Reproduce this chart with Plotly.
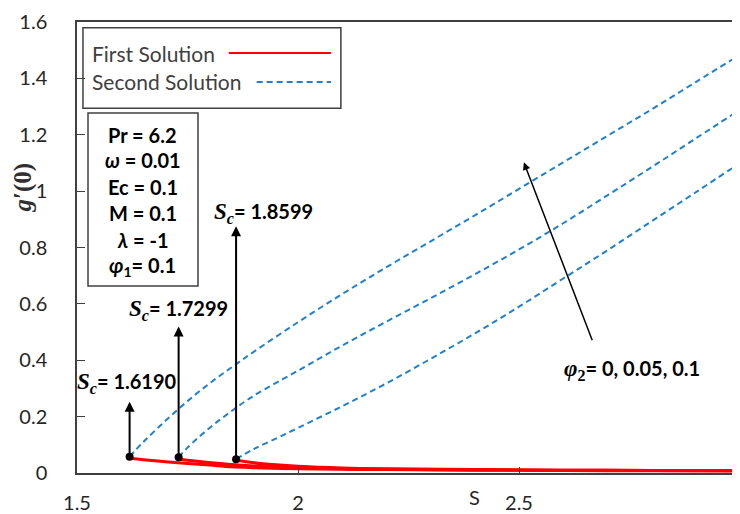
import plotly.graph_objects as go

# ---------------- data ----------------
sc_values = [1.6190, 1.7299, 1.8599]
sc_labels = ["1.6190", "1.7299", "1.8599"]

# second solutions (blue dashed)
s2_a = [1.619, 1.65, 1.70, 1.75, 1.80, 1.85, 1.90, 2.00, 2.10, 2.20, 2.30, 2.40, 2.50, 2.60, 2.70, 2.80, 2.90, 3.00]
g2_a = [0.058, 0.11, 0.185, 0.255, 0.318, 0.375, 0.43, 0.535, 0.635, 0.73, 0.822, 0.914, 1.008, 1.102, 1.196, 1.29, 1.387, 1.484]

s2_b = [1.7299, 1.75, 1.80, 1.85, 1.90, 2.00, 2.10, 2.20, 2.30, 2.40, 2.50, 2.60, 2.70, 2.80, 2.90, 3.00]
g2_b = [0.056, 0.09, 0.16, 0.22, 0.274, 0.363, 0.452, 0.537, 0.62, 0.705, 0.793, 0.886, 0.985, 1.085, 1.187, 1.289]

s2_c = [1.8599, 1.90, 1.95, 2.00, 2.10, 2.20, 2.30, 2.40, 2.50, 2.60, 2.70, 2.80, 2.90, 3.00]
g2_c = [0.049, 0.085, 0.122, 0.16, 0.237, 0.318, 0.405, 0.495, 0.59, 0.69, 0.79, 0.893, 0.996, 1.10]

# first solutions (red solid)
s1_a = [1.619, 1.65, 1.70, 1.75, 1.80, 1.85, 1.90, 2.00, 2.10, 2.20, 2.40, 2.60, 2.80, 3.00]
g1_a = [0.052, 0.047, 0.040, 0.034, 0.028, 0.022, 0.019, 0.015, 0.013, 0.012, 0.010, 0.009, 0.008, 0.008]

s1_b = [1.7299, 1.75, 1.80, 1.85, 1.90, 2.00, 2.10, 2.20, 2.40, 2.60, 2.80, 3.00]
g1_b = [0.050, 0.045, 0.037, 0.030, 0.025, 0.018, 0.015, 0.013, 0.011, 0.010, 0.009, 0.008]

s1_c = [1.8599, 1.90, 1.95, 2.00, 2.10, 2.20, 2.40, 2.60, 2.80, 3.00]
g1_c = [0.045, 0.036, 0.029, 0.024, 0.018, 0.015, 0.012, 0.010, 0.009, 0.008]

x_ticks = [1.5, 2, 2.5, 3]
x_tick_text = ["1.5", "2", "2.5", "3"]
y_ticks = [0, 0.2, 0.4, 0.6, 0.8, 1, 1.2, 1.4, 1.6]
y_tick_text = ["0", "0.2", "0.4", "0.6", "0.8", "1", "1.2", "1.4", "1.6"]

params = ["Pr = 6.2", "<i>ω</i> = 0.01", "Ec = 0.1", "M = 0.1", "<i>λ</i> = -1", "<i>φ</i><sub>1</sub>= 0.1"]

# ---------------- figure ----------------
RED = "#ff0000"
BLUE = "#1f80d0"
BASE_FONT = "Lato, 'Open Sans', sans-serif"
SERIF = "'Liberation Serif', 'DejaVu Serif', serif"
TICK_COLOR = "#262626"

fig = go.Figure()

for s, g in [(s2_a, g2_a), (s2_b, g2_b), (s2_c, g2_c)]:
    fig.add_trace(go.Scatter(x=s, y=g, mode="lines", line=dict(color=BLUE, width=2, dash="6px,4px", shape="spline"),
                             name="Second Solution", showlegend=False))

for s, g in [(s1_a, g1_a), (s1_b, g1_b), (s1_c, g1_c)]:
    fig.add_trace(go.Scatter(x=s, y=g, mode="lines", line=dict(color=RED, width=3, shape="spline"),
                             name="First Solution", showlegend=False))

dot_y = [g2_a[0], g2_b[0], g2_c[0]]
fig.add_trace(go.Scatter(x=sc_values, y=dot_y, mode="markers", marker=dict(color="black", size=8),
                         showlegend=False))

annotations = []


def txt(x, y, text, size, color="black", family=BASE_FONT, ref="paper", **kw):
    d = dict(x=x, y=y, xref=ref, yref=ref, showarrow=False, text=text, xanchor="center", yanchor="middle",
             font=dict(family=family, size=size, color=color))
    d.update(kw)
    return d


SC = f"<span style=\"font-family:{SERIF};font-size:23px\"><i>S</i><sub><i>c</i></sub></span>"

# vertical arrows from critical points
arrow_tops = [0.253, 0.52, 0.875]
label_pos = [(1.614, 0.32), (1.7285, 0.579), (1.921, 0.923)]
for sc, y0, top, (lx, ly), lab in zip(sc_values, dot_y, arrow_tops, label_pos, sc_labels):
    annotations.append(dict(x=sc, y=top, ax=sc, ay=y0, xref="x", yref="y", axref="x", ayref="y",
                            text="", showarrow=True, arrowhead=2, arrowsize=1, arrowwidth=2, arrowcolor="black"))
    annotations.append(txt(lx, ly, f"<b>{SC}= {lab}</b>", 20, ref="x"))
    annotations[-1]["yref"] = "y"

# phi2 arrow
annotations.append(dict(x=2.511, y=1.102, ax=2.667, ay=0.466, xref="x", yref="y", axref="x", ayref="y",
                        text="", showarrow=True, arrowhead=2, arrowsize=1, arrowwidth=1.5, arrowcolor="black"))
annotations.append(txt(0.837, 0.2284,
                       f"<b><span style=\"font-family:{SERIF};font-size:23px\"><i>φ</i><sub>2</sub></span>= 0, 0.05, 0.1</b>",
                       20))

# parameter box text
param_y = [0.749, 0.694, 0.634, 0.576, 0.517, 0.457]
for t, py in zip(params, param_y):
    annotations.append(txt(0.0995, py, f"<b>{t}</b>", 20))

# legend text
annotations.append(txt(0.0196, 0.931, "First Solution", 21, color="#404040", xanchor="left"))
annotations.append(txt(0.0196, 0.867, "Second Solution", 21, color="#404040", xanchor="left"))

# axis titles
annotations.append(txt(0.6003, -0.0532, "S", 20, color=TICK_COLOR))
annotations.append(txt(-0.082, 0.632, "<b><i>g</i>′(0)</b>", 25, color="#303030", family=SERIF, textangle=-90))

shapes = [
    # legend box
    dict(type="rect", xref="paper", yref="paper", x0=0.009, x1=0.398, y0=0.809, y1=0.987,
         line=dict(color="#404040", width=1.5), fillcolor="white", layer="below"),
    dict(type="line", xref="paper", yref="paper", x0=0.229, x1=0.383, y0=0.931, y1=0.931,
         line=dict(color=RED, width=2)),
    dict(type="line", xref="paper", yref="paper", x0=0.271, x1=0.383, y0=0.867, y1=0.867,
         line=dict(color=BLUE, width=2, dash="6px,4px")),
    # parameter box
    dict(type="rect", xref="paper", yref="paper", x0=0.0166, x1=0.1825, y0=0.4146, y1=0.798,
         line=dict(color="#404040", width=1.5), fillcolor="white", layer="below"),
]

# the page body has an 8px margin, so the figure is 8px smaller than the window
fig.update_layout(
    width=732, height=506, autosize=False,
    margin=dict(l=69, r=0, t=14, b=41, autoexpand=False),
    paper_bgcolor="white", plot_bgcolor="white",
    showlegend=False,
    font=dict(family=BASE_FONT, size=20, color=TICK_COLOR),
    annotations=annotations,
    shapes=shapes,
    xaxis=dict(range=[1.5, 3.0], tickvals=x_ticks, ticktext=x_tick_text, automargin=False,
               ticklabeloverflow="allow",
               showgrid=False, zeroline=False, showline=True, linecolor="#404040", linewidth=1.5,
               mirror=True, ticks="inside", ticklen=6, tickcolor="#404040",
               ticklabelstandoff=11, tickfont=dict(size=20, color=TICK_COLOR)),
    yaxis=dict(range=[0, 1.6], tickvals=y_ticks, ticktext=y_tick_text, automargin=False,
               ticklabeloverflow="allow",
               showgrid=False, zeroline=False, showline=True, linecolor="#404040", linewidth=1.5,
               ticks="inside", ticklen=8, tickcolor="#404040",
               ticklabelstandoff=24, tickfont=dict(size=20, color=TICK_COLOR)),
)

fig.write_html("out.html")
